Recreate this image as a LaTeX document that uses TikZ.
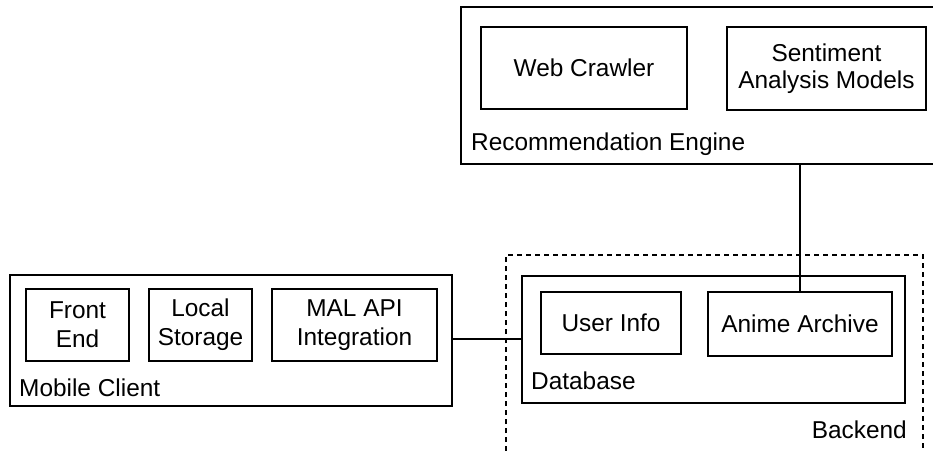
\documentclass[tikz,border=0pt]{standalone}
\usepackage{fontspec}
\setmainfont{Liberation Sans}
\begin{document}
\begin{tikzpicture}[x=1pt,y=-1pt,
  every node/.style={font=\fontsize{24.4}{27.5}\selectfont, inner sep=0pt},
  box/.style={draw, line width=1.6pt, rectangle, align=center},
  tallbox/.style={box, font=\fontsize{24.4}{29}\selectfont},
  grouplabel/.style={anchor=base west},
  link/.style={draw, line width=1.6pt},
  boundary/.style={draw, line width=1.6pt, dash pattern=on 5pt off 4pt}]
\useasboundingbox (0,0) rectangle (933,450);
\clip (0,0) rectangle (933,450);

% Recommendation engine (runs past the right edge)
\node[box, minimum width=484pt, minimum height=157pt] (rec) at (703,85.5) {};
\node[box, minimum width=206pt, minimum height=82pt] (crawler) at (584,68) {Web Crawler};
\node[box, minimum width=199pt, minimum height=83pt] (sentiment) at (826.5,68.5) {Sentiment\\Analysis Models};
\node[grouplabel] (reclabel) at (471,150) {Recommendation Engine};

% Mobile client
\node[box, minimum width=442pt, minimum height=131pt] (mobile) at (231,340.5) {};
\node[tallbox, minimum width=103pt, minimum height=72pt] (front) at (77.5,325) {Front\\End};
\node[tallbox, minimum width=103pt, minimum height=72pt] (storage) at (200.5,325) {Local\\Storage};
\node[tallbox, minimum width=165pt, minimum height=72pt] (mal) at (354.5,325) {MAL API\\Integration};
\node[grouplabel] (mobilelabel) at (19,396.5) {Mobile Client};

% Backend boundary (open at the bottom edge)
\coordinate (bbl) at (506,460);
\coordinate (btl) at (506,255);
\coordinate (btr) at (923,255);
\coordinate (bbr) at (923,460);
\draw[boundary] (bbl) -- (btl) -- (btr) -- (bbr);
\node[anchor=base east] (backendlabel) at (907,438) {Backend};

% Database
\node[box, minimum width=383pt, minimum height=127pt] (db) at (713.5,339.5) {};
\node[box, minimum width=140pt, minimum height=62pt] (user) at (611,323) {User Info};
\node[box, minimum width=184pt, minimum height=64pt] (archive) at (800,324) {Anime Archive};
\node[grouplabel] (dblabel) at (531,389) {Database};

% Connectors
\draw[link] (db.west |- 0,339) -- (mobile.east |- 0,339);
\draw[link] (archive.north) -- (archive.north |- rec.south);
\end{tikzpicture}
\end{document}
